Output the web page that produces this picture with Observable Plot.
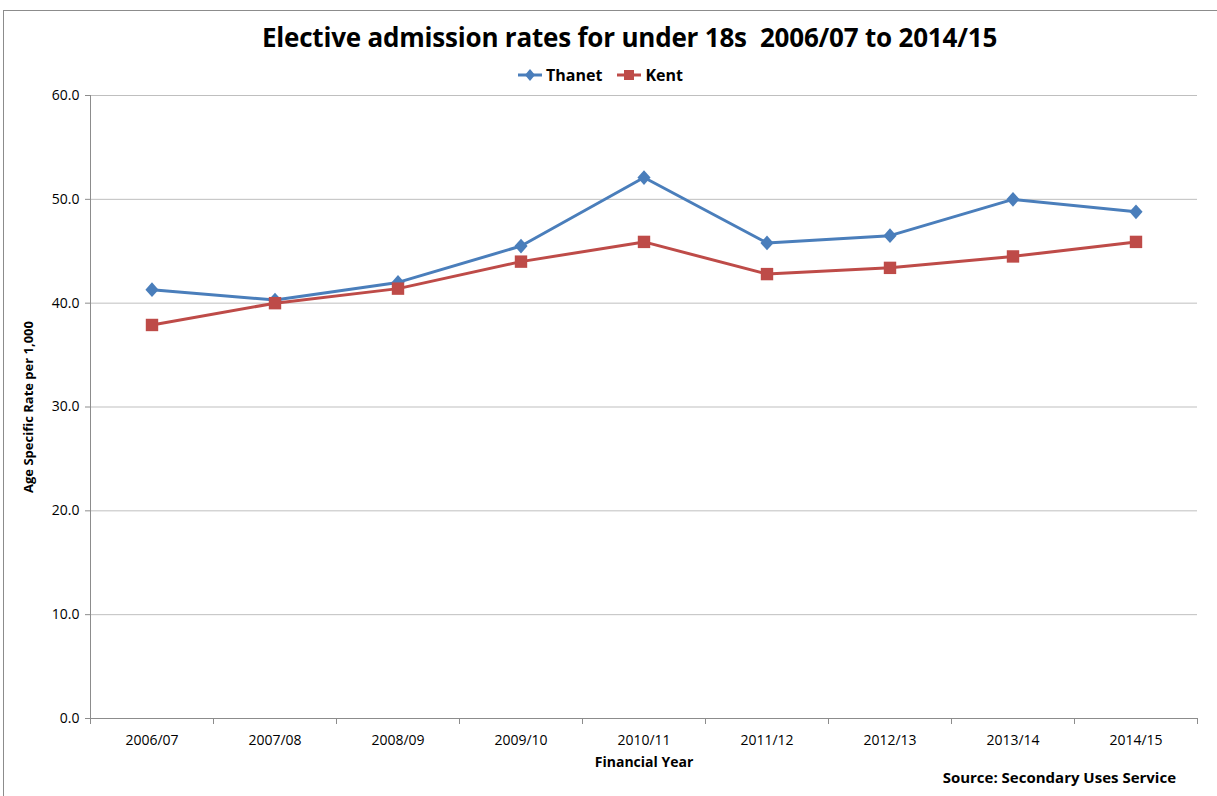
<!DOCTYPE html>
<html>
<head>
<meta charset="utf-8">
<script src="https://cdn.jsdelivr.net/npm/d3@7"></script>
<script src="https://cdn.jsdelivr.net/npm/@observablehq/plot@0.6"></script>
<style>
  body { margin: 0; background: #fff; font-family: "Liberation Sans Narrow", "Arial Narrow", "Open Sans", sans-serif; }
  #wrap { position: relative; width: 1217px; height: 796px; overflow: hidden; }
  #frame { position: absolute; left: 3px; top: 10px; width: 1230px; height: 800px; border: 1px solid #8c8c8c; box-sizing: border-box; }
  #title { position: absolute; left: 0; top: 19px; width: 1259px; text-align: center; font-size: 26px; font-weight: bold; color: #000; letter-spacing: -0.2px; }
  #legend { position: absolute; left: 0; top: 64px; width: 1200px; text-align: center; font-size: 16px; font-weight: bold; color: #000; display: flex; justify-content: center; gap: 14px; }
  #legend span { display: inline-flex; align-items: center; gap: 3px; }
  #chart { position: absolute; left: 0; top: 84px; }
  #source { position: absolute; right: 41px; top: 767px; font-size: 15px; font-weight: bold; color: #000; }
</style>
</head>
<body>
<div id="wrap">
  <div id="frame"></div>
  <div id="title">Elective admission rates for under 18s&nbsp; 2006/07 to 2014/15</div>
  <div id="legend"></div>
  <div id="chart"></div>
  <div id="source">Source: Secondary Uses Service</div>
</div>
<script>
const years = ["2006/07","2007/08","2008/09","2009/10","2010/11","2011/12","2012/13","2013/14","2014/15"];
const thanet = [41.3, 40.3, 42.0, 45.5, 52.1, 45.8, 46.5, 50.0, 48.8];
const kent   = [37.9, 40.0, 41.4, 44.0, 45.9, 42.8, 43.4, 44.5, 45.9];
const seriesNames = ["Thanet", "Kent"];
const seriesColors = ["#4A7EBB", "#BE4B48"];
const yTicks = [0, 10, 20, 30, 40, 50, 60];

// squat diamond like the spreadsheet marker
const diamondSym = {
  draw(ctx, size) {
    const w = Math.sqrt(size) * 0.53, h = w * 1.12;
    ctx.moveTo(0, -h); ctx.lineTo(w, 0); ctx.lineTo(0, h); ctx.lineTo(-w, 0); ctx.closePath();
  }
};
const seriesSymbols = [diamondSym, d3.symbolSquare];

const rows = [];
[thanet, kent].forEach((vals, s) => vals.forEach((v, i) => rows.push({series: seriesNames[s], i, year: years[i], value: v})));

// legend
const leg = document.getElementById("legend");
seriesNames.forEach((n, s) => {
  const sp = document.createElement("span");
  const sym = s === 0
    ? `<svg width="26" height="14"><line x1="1" y1="7" x2="25" y2="7" stroke="${seriesColors[s]}" stroke-width="3"/><path d="M13 1 L18 7 L13 13 L8 7 Z" fill="${seriesColors[s]}"/></svg>`
    : `<svg width="26" height="14"><line x1="1" y1="7" x2="25" y2="7" stroke="${seriesColors[s]}" stroke-width="3"/><rect x="8" y="2" width="10" height="10" fill="${seriesColors[s]}"/></svg>`;
  sp.innerHTML = sym + n;
  leg.appendChild(sp);
});

const boundaries = d3.range(years.length + 1).map(k => k - 0.5);

const plot = Plot.plot({
  width: 1217,
  height: 700,
  marginLeft: 90,
  marginRight: 20,
  marginTop: 11,
  marginBottom: 66,
  style: {fontFamily: '"Liberation Sans Narrow", "Arial Narrow", "Open Sans", sans-serif', fontSize: "14px", color: "#000", background: "transparent"},
  x: {domain: [-0.5, years.length - 0.5]},
  y: {domain: [0, 60]},
  marks: [
    Plot.gridY(yTicks, {stroke: "#bfbfbf", strokeOpacity: 1, strokeWidth: 1}),
    Plot.ruleX([-0.5], {stroke: "#8c8c8c"}),
    Plot.ruleY([0], {stroke: "#8c8c8c"}),
    Plot.axisY(yTicks, {tickFormat: d => d.toFixed(1), tickSize: 5, stroke: "#8c8c8c", tickPadding: 6, label: null, fontSize: 14}),
    Plot.axisX(boundaries, {tickFormat: () => "", tickSize: 6, stroke: "#8c8c8c", label: null}),
    Plot.axisX(d3.range(years.length), {tickFormat: i => years[i], tickSize: 0, tickPadding: 17, label: null, fontSize: 14}),
    Plot.text(["Age Specific Rate per 1,000"], {frameAnchor: "left", textAnchor: "middle", dx: -62, rotate: -90, fontWeight: "bold", fontSize: 13}),
    Plot.text(["Financial Year"], {frameAnchor: "bottom", dy: 48, fontWeight: "bold", fontSize: 14}),
    Plot.line(rows, {x: "i", y: "value", z: "series", stroke: "series", strokeWidth: 3}),
    Plot.dot(rows, {x: "i", y: "value", fill: "series", symbol: "series", r: 7, stroke: null})
  ],
  color: {domain: seriesNames, range: seriesColors},
  symbol: {domain: seriesNames, range: seriesSymbols}
});
document.getElementById("chart").appendChild(plot);
</script>
</body>
</html>
